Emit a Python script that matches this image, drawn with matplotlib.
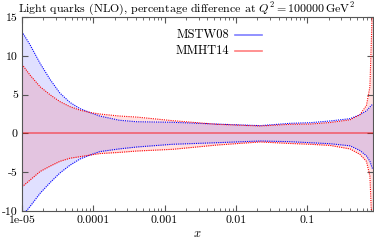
import matplotlib

matplotlib.use("Agg")
import matplotlib.pyplot as plt
from matplotlib.lines import Line2D

plt.rcParams["font.family"] = ["cmr10", "DejaVu Serif"]
plt.rcParams["mathtext.fontset"] = "cm"
plt.rcParams["axes.unicode_minus"] = False
plt.rcParams["axes.formatter.use_mathtext"] = True

# values (percent difference vs x)
x = [1.0e-5, 1.3e-5, 1.8e-5, 2.5e-5, 3.4e-5, 4.7e-5, 6.5e-5, 8.9e-5, 1.23e-4,
     2.3e-4, 4.1e-4, 1.3e-3, 5.4e-3, 0.022, 0.058, 0.11, 0.21, 0.40, 0.55,
     0.68, 0.76, 0.80, 0.83]
mstw_hi = [13.1, 11.4, 9.0, 6.9, 5.2, 4.0, 3.2, 2.7, 2.24, 1.7, 1.5, 1.43,
           1.2, 1.0, 1.3, 1.38, 1.6, 1.9, 2.4, 2.9, 3.4, 3.6, 3.8]
mstw_lo = [-10.7, -9.4, -7.7, -6.3, -5.1, -4.1, -3.3, -2.8, -2.35, -2.0,
           -1.75, -1.4, -1.2, -0.98, -1.07, -1.2, -1.33, -1.6, -2.2, -2.9,
           -3.6, -4.2, -4.6]
mmht_hi = [8.9, 7.5, 6.0, 4.95, 4.1, 3.45, 3.0, 2.7, 2.5, 2.24, 2.1, 1.64,
           1.17, 0.95, 1.17, 1.2, 1.4, 1.75, 2.4, 3.6, 6.0, 12.5, 18.0]
mmht_lo = [-6.9, -6.0, -4.9, -4.2, -3.6, -3.2, -3.0, -2.8, -2.6, -2.45,
           -2.27, -2.05, -1.5, -1.1, -1.3, -1.4, -1.55, -2.0, -2.7, -3.6,
           -5.5, -10.5, -13.0]

xticks = [1e-5, 1e-4, 1e-3, 1e-2, 1e-1]
xticklabels = ["1e-05", "0.0001", "0.001", "0.01", "0.1"]
yticks = [-10, -5, 0, 5, 10, 15]
yticklabels = ["-10", "-5", "0", "5", "10", "15"]

blue = "#0000ff"
red = "#ff0000"

fig = plt.figure(figsize=(3.74, 2.41), dpi=100)
ax = fig.add_axes([22 / 374, 1 - 211 / 241, 351 / 374, 194 / 241])

ax.fill_between(x, mstw_lo, mstw_hi, color=blue, alpha=0.12, lw=0)
ax.fill_between(x, mmht_lo, mmht_hi, color=red, alpha=0.12, lw=0)
for lo, hi, c in [(mstw_lo, mstw_hi, blue), (mmht_lo, mmht_hi, red)]:
    ax.plot(x, hi, color=c, lw=0.8, ls=(0, (1, 1)))
    ax.plot(x, lo, color=c, lw=0.8, ls=(0, (1, 1)))
ax.axhline(0, color=red, alpha=0.5, lw=1.2)

ax.set_xscale("log")
ax.set_xlim(1e-5, 0.84)
ax.set_ylim(-10, 15)
ax.set_xticks(xticks)
ax.set_xticklabels(xticklabels)
ax.set_yticks(yticks)
ax.set_yticklabels(yticklabels)
ax.tick_params(which="both", direction="in", top=True, right=True,
               labelsize=8.5, color="#555555")
ax.tick_params(which="major", length=4, pad=3)
ax.tick_params(which="minor", length=2)
for s in ax.spines.values():
    s.set_color("#555555")
    s.set_linewidth(0.8)

ax.set_xlabel("$x$", fontsize=9, labelpad=2)

# legend, gnuplot style: text then line sample
for i, (name, c) in enumerate([("MSTW08", blue), ("MMHT14", red)]):
    yy = 0.907 - i * 0.083
    ax.text(0.590, yy, name, transform=ax.transAxes, ha="right",
            va="center", fontsize=9)
    ax.add_line(Line2D([0.607, 0.684], [yy, yy], transform=ax.transAxes,
                       color=c, alpha=0.5, lw=1.2))

fig.text(0.5, 1 - 12 / 241,
         r"Light quarks (NLO), percentage difference at $Q^2 = 100000\,\mathrm{GeV}^2$",
         ha="center", va="baseline", fontsize=8.6)

fig.savefig("out.png", dpi=100)
